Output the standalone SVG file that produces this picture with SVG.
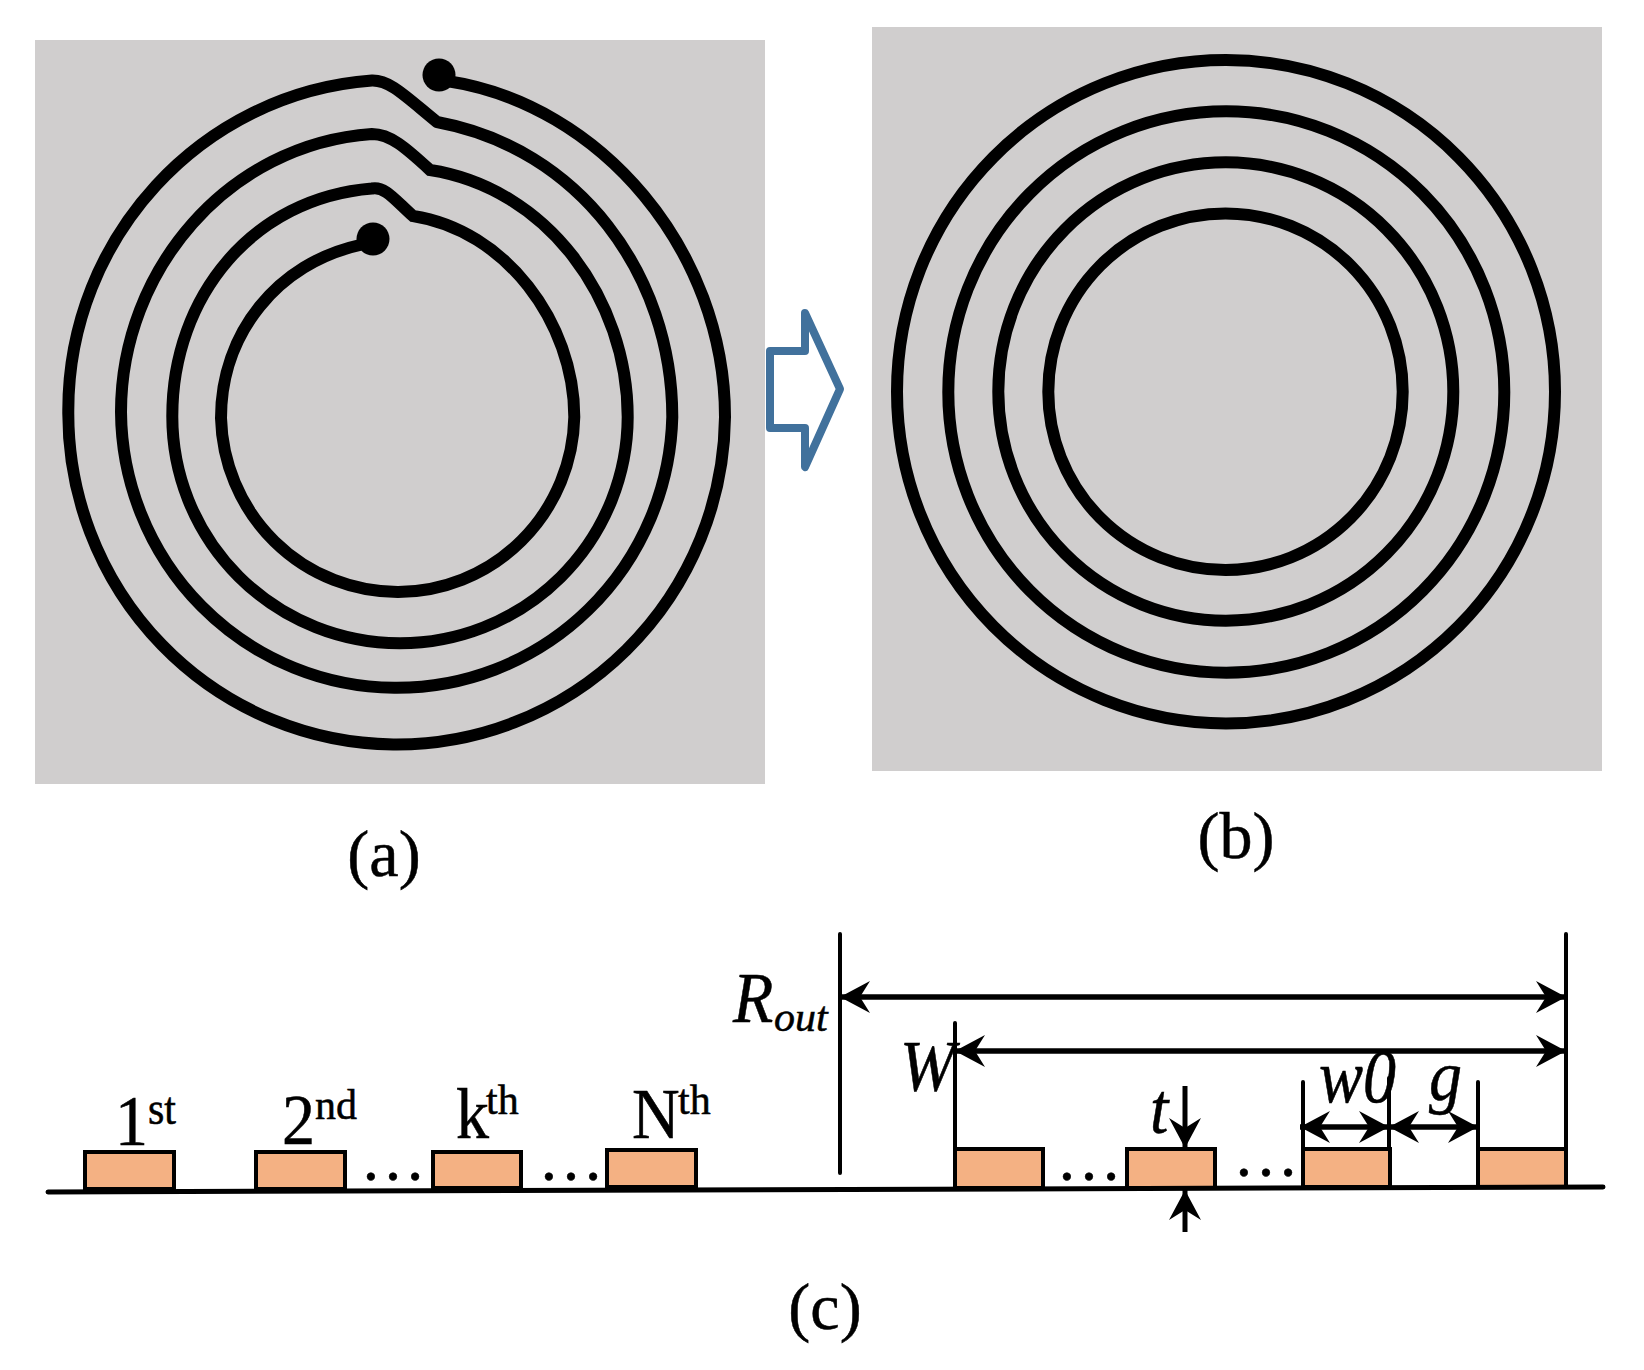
<svg xmlns="http://www.w3.org/2000/svg" width="1644" height="1370" viewBox="0 0 1644 1370">
<style>
.panel{fill:#d0cece}
.coil{fill:none;stroke:#000;stroke-width:12;stroke-linejoin:miter}
.dot{fill:#000}
.cu{fill:#f4b183;stroke:#000;stroke-width:4}
.ext{stroke:#000;stroke-width:4;fill:none;stroke-linecap:round}
.dim{stroke:#000;stroke-width:5.500;fill:none;marker-end:url(#a);marker-start:url(#a)}
.one{stroke:#000;stroke-width:5;fill:none;marker-end:url(#a)}
text{font-family:"Liberation Serif","Times New Roman",serif;fill:#000;stroke:#000;stroke-width:.5}
.cap{font-size:66px;text-anchor:middle}
.n{font-size:66px}
.s{font-size:42px}
.i{font-style:italic}
</style>
<defs>
<marker id="a" markerUnits="userSpaceOnUse" markerWidth="34" markerHeight="34" refX="31" refY="16" orient="auto-start-reverse">
<path d="M31 16L1 0L11 16L1 32Z" fill="#000"/>
</marker>
</defs>
<rect width="1644" height="1370" fill="#fff"/>
<g id="panel-a">
<rect class="panel" x="35" y="40" width="730" height="744"/>
<path class="coil" d="M447 81C601 104 725 251 725 417A328.350 331 0 0 1 68.300 410C68.300 238 201 93 372 80.500C390 80 405 96 437 122C578.500 148 672.300 274 672.300 417A275.700 278 0 0 1 121 412C121 270 228 144 372 134C390 134 405 147 430 170C547 188 627.700 299 627.700 417A227.700 226.700 0 0 1 172.300 416C172.300 296 253 198 372 188.500C385 186 395 200 413 216C505 230 574.300 322 574.300 417A176.700 178.700 0 0 1 221 418C221 333 278 263 360 245"/>
<circle class="dot" cx="439" cy="75" r="16.500"/>
<circle class="dot" cx="373" cy="239" r="16.500"/>
</g>
<g id="panel-b">
<rect class="panel" x="872" y="27" width="730" height="744"/>
<ellipse class="coil" cx="1226" cy="391.700" rx="329" ry="331.700"/>
<ellipse class="coil" cx="1226.300" cy="392" rx="278" ry="280.700"/>
<ellipse class="coil" cx="1225.800" cy="391.500" rx="227.500" ry="229.200"/>
<ellipse class="coil" cx="1225.500" cy="391.700" rx="177.200" ry="178.300"/>
</g>
<g id="block-arrow">
<path d="M805 313L840 389L805 467V428H770V351H805Z" fill="none" stroke="#41719c" stroke-width="8" stroke-linejoin="round"/>
</g>
<text class="cap" x="384" y="876">(a)</text>
<text class="cap" x="1236" y="858">(b)</text>
<text class="cap" x="825" y="1329">(c)</text>
<g id="conductors">
<rect class="cu" x="85" y="1152" width="89" height="37"/>
<rect class="cu" x="256" y="1152" width="89" height="37"/>
<rect class="cu" x="433" y="1152" width="88" height="36"/>
<rect class="cu" x="607" y="1150" width="89" height="37"/>
<rect class="cu" x="955" y="1149" width="88" height="39"/>
<rect class="cu" x="1127" y="1149" width="88" height="39"/>
<rect class="cu" x="1303" y="1149" width="87" height="38"/>
<rect class="cu" x="1478" y="1149" width="88" height="38"/>
</g>
<g id="connectors">
<path d="M48 1192L1603 1187" stroke="#000" stroke-width="5" stroke-linecap="round" fill="none"/>
<path class="ext" d="M840 934V1173M1566 934V1187M955 1023V1149M1303 1082V1149M1389 1078V1149M1478 1082V1149"/>
<path class="dim" d="M840 997H1566"/>
<path class="dim" d="M955 1051H1566"/>
<path class="dim" d="M1300 1127H1389"/>
<path class="dim" d="M1389 1127H1478"/>
<path class="one" d="M1185 1086V1148"/>
<path class="one" d="M1185 1232V1190"/>
</g>
<g id="labels">
<text class="n" transform="translate(115 1145) scale(1 1.080)">1<tspan class="s" dy="-19">st</tspan></text>
<text class="n" transform="translate(282 1144) scale(1 1.080)">2</text><text class="s" x="315" y="1119">nd</text>
<text class="n" transform="translate(456 1138) scale(1 1.080)">k</text><text class="s" x="486" y="1114">th</text>
<text class="n" transform="translate(632 1138) scale(1 1.080)">N</text><text class="s" x="678" y="1114">th</text>
<text class="n" x="360" y="1180">…</text>
<text class="n" x="538" y="1180">…</text>
<text class="n" x="1056" y="1180">…</text>
<text class="n" x="1233" y="1176">…</text>
<text class="n i" transform="translate(733 1022) scale(1 1.080)">R</text><text class="s i" x="774" y="1031">out</text>
<text class="n i" transform="translate(900 1090) scale(1 1.080)">W</text>
<text class="n i" transform="translate(1150 1133) scale(1 1.080)">t</text>
<text class="n i" transform="translate(1319 1102) scale(1 1.150)">w0</text>
<text class="n i" transform="translate(1429 1100) scale(1 1.080)">g</text>
</g>
</svg>
